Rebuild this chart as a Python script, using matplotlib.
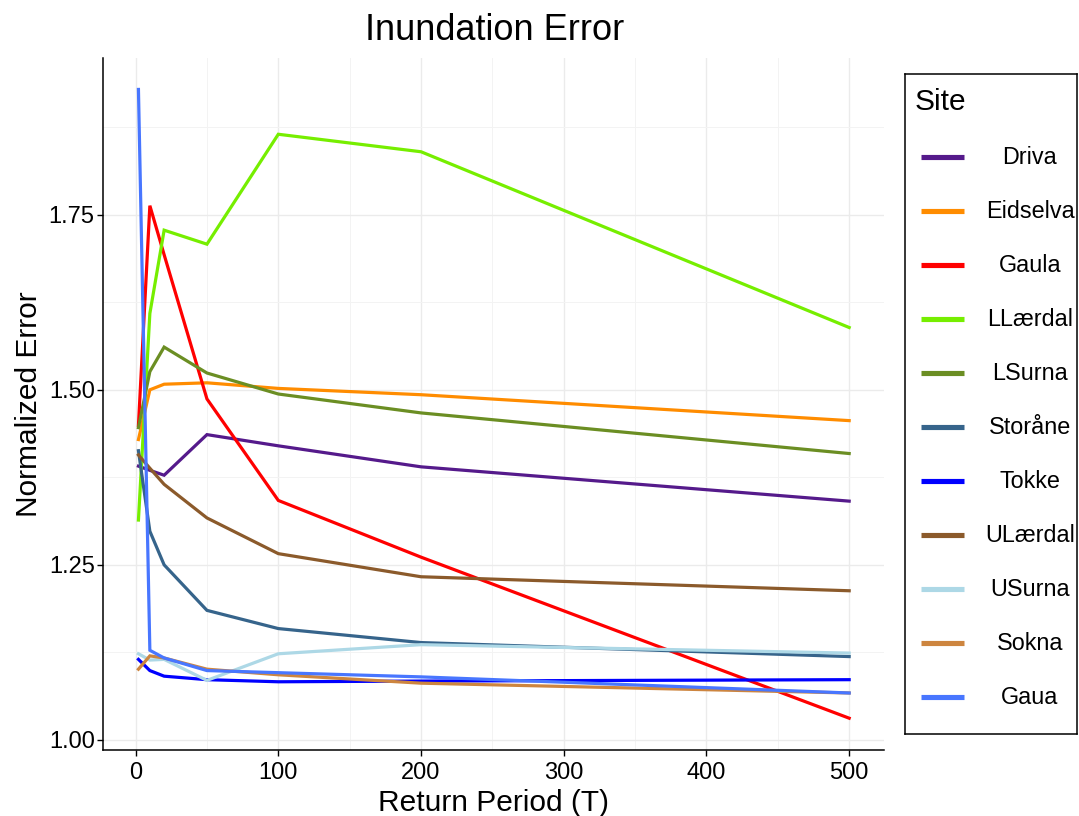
import matplotlib
matplotlib.use('Agg')
import matplotlib.pyplot as plt
from matplotlib.ticker import MultipleLocator

plt.rcParams['font.family'] = ['Liberation Sans', 'DejaVu Sans']

# return periods
periods = [2, 10, 20, 50, 100, 200, 500]

driva    = [1.391, 1.385, 1.378, 1.436, 1.420, 1.390, 1.341]
eidselva = [1.429, 1.500, 1.508, 1.510, 1.502, 1.493, 1.456]
gaula    = [1.449, 1.763, 1.693, 1.487, 1.342, 1.261, 1.031]
llaerdal = [1.314, 1.609, 1.728, 1.708, 1.865, 1.840, 1.589]
lsurna   = [1.446, 1.526, 1.561, 1.524, 1.494, 1.467, 1.409]
storaane = [1.413, 1.298, 1.250, 1.185, 1.159, 1.139, 1.119]
tokke    = [1.115, 1.099, 1.091, 1.086, 1.083, 1.084, 1.086]
ulaerdal = [1.407, 1.388, 1.365, 1.317, 1.266, 1.233, 1.213]
usurna   = [1.123, 1.114, 1.115, 1.085, 1.123, 1.136, 1.124]
sokna    = [1.101, 1.120, 1.117, 1.101, 1.093, 1.081, 1.067]
gaua     = [1.929, 1.128, 1.117, 1.099, 1.096, 1.090, 1.067]

sites = ['Driva', 'Eidselva', 'Gaula', 'LLærdal', 'LSurna', 'Storåne',
         'Tokke', 'ULærdal', 'USurna', 'Sokna', 'Gaua']
values = [driva, eidselva, gaula, llaerdal, lsurna, storaane,
          tokke, ulaerdal, usurna, sokna, gaua]
colors = ['#551A8B', '#FF8C00', '#FF0000', '#76EE00', '#6B8E23', '#36648B',
          '#0000FF', '#8B5A2B', '#ADD8E6', '#CD853F', '#4876FF']

fig = plt.figure(figsize=(10.79, 8.16), dpi=100)
ax = fig.add_axes([0.0955, 0.081, 0.7235, 0.848])

for name, vals, c in zip(sites, values, colors):
    ax.plot(periods, vals, color=c, lw=2.3, label=name, solid_joinstyle='miter')

ax.set_xlim(-22.8, 524.2)
ax.set_ylim(0.9857, 1.974)
ax.xaxis.set_major_locator(MultipleLocator(100))
ax.xaxis.set_minor_locator(MultipleLocator(50))
ax.yaxis.set_minor_locator(MultipleLocator(0.125))
ax.set_yticks([1.0, 1.25, 1.5, 1.75])
ax.set_yticklabels(['1.00', '1.25', '1.50', '1.75'])
ax.grid(which='major', color='#EBEBEB', lw=1.0)
ax.grid(which='minor', color='#F3F3F3', lw=0.7)
ax.set_axisbelow(True)
ax.tick_params(which='minor', length=0)
ax.tick_params(which='major', length=4, width=1, labelsize=17, colors='black', pad=2)
ax.tick_params(axis='x', pad=5)
for s in ['top', 'right']:
    ax.spines[s].set_visible(False)
for s in ['left', 'bottom']:
    ax.spines[s].set_linewidth(1.1)

ax.set_xlabel('Return Period (T)', fontsize=21.5, labelpad=3)
ax.set_ylabel('Normalized Error', fontsize=21.5, labelpad=4)
fig.text(0.458, 0.963, 'Inundation Error', ha='center', va='center', fontsize=26)

# legend panel
lax = fig.add_axes([905 / 1079, 1 - 734 / 816, 172 / 1079, 660 / 816])
lax.set_xlim(0, 172)
lax.set_ylim(660, 0)
lax.set_xticks([])
lax.set_yticks([])
for s in lax.spines.values():
    s.set_linewidth(1.1)
lax.text(10, 28, 'Site', fontsize=21.5, va='center', ha='left')
for i, (name, c) in enumerate(zip(sites, colors)):
    y = 83 + i * 54
    lax.plot([16, 59], [y, y], color=c, lw=3.7, solid_capstyle='butt')
    lax.text(125, y, name, fontsize=16.8, va='center', ha='center')

fig.savefig('out.png', dpi=100)
